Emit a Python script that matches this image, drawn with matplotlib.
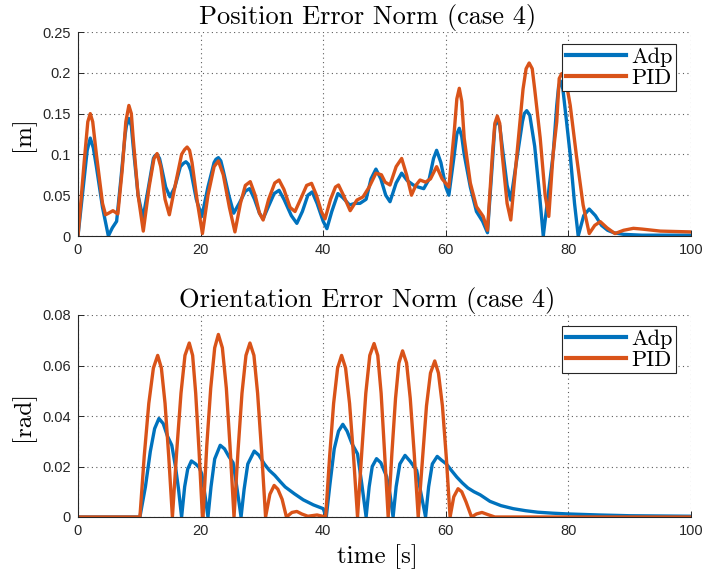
import matplotlib
matplotlib.use("Agg")
import matplotlib.pyplot as plt

# ---------------- data ----------------
# Position error norm [m], controller "Adp"
pos_adp_t = [0, 1, 1.5, 2, 2.5, 3, 4, 4.95, 5.6, 6.3, 7, 7.7, 7.9, 8.3, 8.7, 9, 9.8, 10.6, 11.5, 12.3, 12.5,
             12.9, 13.3, 13.6, 14.3, 15.0, 15.8, 16.7, 17.2, 17.6, 18.0, 18.4, 19.3, 20.2, 21.2, 22.2, 22.5,
             22.9, 23.3, 23.7, 24.6, 25.4, 26.3, 27.3, 28.0, 28.8, 29.6, 30.2, 31.0, 32.0, 32.8, 33.6, 34.8,
             35.7, 36.6, 37.5, 38.2, 39.0, 40.0, 40.6, 41.4, 42.4, 43.2, 44.3, 45.2, 46.0, 47.0, 47.8, 48.6,
             49.4, 50.2, 50.9, 51.9, 52.8, 53.7, 54.7, 55.5, 56.4, 57.3, 58.0, 58.5, 59.2, 60.0, 60.5, 61.3,
             61.8, 62.2, 62.6, 63.0, 64.0, 65.0, 66.0, 66.8, 67.6, 68.0, 68.4, 68.8, 69.2, 70.0, 70.6, 71.5,
             72.5, 72.8, 73.2, 73.7, 74.5, 75.3, 75.9, 76.7, 77.5, 78.1, 78.4, 78.7, 79.1, 79.7, 80.3, 81.0,
             81.6, 82.5, 83.4, 84.4, 85.4, 86.4, 87.4, 89, 92, 100]
pos_adp_v = [0, 0.07, 0.105, 0.12, 0.108, 0.085, 0.035, 0.0, 0.01, 0.018, 0.07, 0.125, 0.135, 0.144, 0.135,
             0.11, 0.05, 0.022, 0.06, 0.095, 0.098, 0.10, 0.095, 0.085, 0.06, 0.048, 0.06, 0.085, 0.089, 0.091,
             0.088, 0.08, 0.045, 0.024, 0.06, 0.09, 0.094, 0.096, 0.092, 0.08, 0.05, 0.028, 0.04, 0.055, 0.058,
             0.045, 0.028, 0.021, 0.035, 0.052, 0.056, 0.045, 0.025, 0.0155, 0.03, 0.05, 0.054, 0.04, 0.018,
             0.009, 0.03, 0.052, 0.047, 0.038, 0.04, 0.040, 0.045, 0.07, 0.082, 0.07, 0.05, 0.042, 0.065,
             0.077, 0.068, 0.0625, 0.06, 0.058, 0.07, 0.095, 0.105, 0.09, 0.06, 0.050, 0.095, 0.125, 0.132,
             0.122, 0.1, 0.06, 0.03, 0.018, 0.004, 0.09, 0.135, 0.142, 0.135, 0.11, 0.062, 0.044, 0.09, 0.14,
             0.15, 0.1536, 0.148, 0.11, 0.05, 0.0, 0.05, 0.099, 0.16, 0.183, 0.19, 0.18, 0.14, 0.099, 0.04,
             0.0, 0.025, 0.033, 0.025, 0.013, 0.007, 0.004, 0.002, 0.001, 0.001]

# Position error norm [m], controller "PID"
pos_pid_t = [0, 1, 1.6, 2.0, 2.4, 3.0, 4.0, 4.5, 5.0, 5.7, 6.5, 7.2, 7.8, 8.3, 8.7, 9.0, 9.8, 10.65, 11.6,
             12.4, 12.9, 13.5, 14.2, 14.9, 15.8, 16.9, 17.4, 17.8, 18.2, 18.6, 19.5, 20.3, 21.2, 22.2, 22.9,
             23.7, 24.7, 25.6, 26.5, 27.3, 28.1, 28.9, 29.6, 30.2, 31.1, 32.1, 32.8, 33.6, 34.6, 35.4, 36.3,
             37.3, 38.1, 38.9, 39.7, 40.3, 41.2, 42.0, 42.5, 43.3, 44.4, 45.5, 46.5, 47.5, 48.6, 49.5, 50.1,
             50.9, 51.9, 52.8, 53.6, 54.4, 55.1, 55.8, 56.7, 57.5, 58.5, 59.4, 60.5, 61.4, 61.8, 62.2, 62.6,
             63.0, 64.0, 65.0, 66.1, 66.8, 67.6, 68.0, 68.4, 68.8, 69.2, 70.0, 70.6, 71.6, 72.6, 73.1, 73.6,
             74.1, 74.5, 75.4, 76.2, 76.8, 77.5, 78.1, 78.5, 78.9, 79.6, 80.3, 81.3, 82.4, 83.4, 84.3, 85.2,
             86.3, 87.6, 89, 90.6, 92, 95, 100]
pos_pid_v = [0, 0.09, 0.14, 0.150, 0.14, 0.1, 0.04, 0.026, 0.028, 0.031, 0.027, 0.08, 0.14, 0.160, 0.15,
             0.12, 0.05, 0.006, 0.06, 0.095, 0.101, 0.085, 0.045, 0.026, 0.06, 0.1, 0.106, 0.109, 0.105, 0.09,
             0.04, 0.003, 0.05, 0.085, 0.092, 0.075, 0.035, 0.005, 0.04, 0.062, 0.0666, 0.05, 0.028, 0.0196,
             0.045, 0.065, 0.0686, 0.057, 0.035, 0.030, 0.045, 0.062, 0.0645, 0.05, 0.03, 0.021, 0.045, 0.06,
             0.0625, 0.05, 0.031, 0.044, 0.048, 0.06, 0.077, 0.075, 0.066, 0.0625, 0.085, 0.095, 0.075, 0.050,
             0.062, 0.0686, 0.066, 0.07, 0.085, 0.07, 0.06, 0.13, 0.168, 0.181, 0.165, 0.12, 0.065, 0.036,
             0.024, 0.007, 0.1, 0.138, 0.147, 0.138, 0.1, 0.04, 0.0196, 0.1, 0.18, 0.205, 0.212, 0.205, 0.18,
             0.12, 0.05, 0.024, 0.1, 0.14, 0.193, 0.199, 0.19, 0.16, 0.099, 0.038, 0.003, 0.013, 0.0176, 0.01,
             0.003, 0.007, 0.0094, 0.0085, 0.006, 0.005]

# Orientation error norm [rad], controller "Adp"
ori_adp_t = [0, 10.1, 11.0, 11.8, 12.5, 13.2, 13.9, 14.6, 15.3, 15.9, 16.4, 16.9, 17.4, 17.9, 18.5, 19.2,
             19.8, 20.2, 20.7, 21.2, 21.7, 22.3, 23.2, 23.9, 24.6, 25.3, 25.9, 26.6, 27.1, 27.7, 28.75, 29.5,
             30.4, 31.2, 32.1, 33.0, 33.8, 35.3, 36.75, 38.4, 40.0, 40.5, 41.1, 41.8, 42.5, 43.2, 43.9, 44.7,
             45.6, 46.3, 47.0, 47.5, 48.0, 48.7, 49.4, 50.35, 50.9, 51.4, 51.9, 52.5, 53.35, 54.2, 55.25, 55.9,
             56.7, 57.2, 57.8, 58.6, 59.3, 60.1, 60.9, 61.8, 62.7, 63.6, 64.6, 65.6, 67.2, 69.0, 71.0, 73.0,
             75.0, 77.5, 80, 85, 90, 100]
ori_adp_v = [0, 0, 0.012, 0.026, 0.035, 0.039, 0.037, 0.032, 0.0284, 0.02, 0.011, 0.0, 0.012, 0.019, 0.0222,
             0.021, 0.0195, 0.017, 0.009, 0.0, 0.012, 0.023, 0.0284, 0.027, 0.024, 0.0215, 0.012, 0.0, 0.011,
             0.021, 0.0261, 0.0245, 0.021, 0.0185, 0.0165, 0.014, 0.0119, 0.0092, 0.0068, 0.0048, 0.0033, 0.0,
             0.013, 0.027, 0.034, 0.0367, 0.034, 0.029, 0.025, 0.013, 0.0, 0.012, 0.02, 0.0231, 0.0215, 0.016,
             0.009, 0.0, 0.012, 0.021, 0.0244, 0.022, 0.0185, 0.01, 0.0, 0.012, 0.021, 0.024, 0.0225, 0.021,
             0.0185, 0.0158, 0.0135, 0.0115, 0.0100, 0.0088, 0.0062, 0.0045, 0.0033, 0.0025, 0.0019, 0.0015,
             0.0012, 0.0008, 0.0005, 0.0003]

# Orientation error norm [rad], controller "PID"
ori_pid_t = [0, 10.1, 10.8, 11.55, 12.3, 13.0, 13.6, 14.2, 14.8, 15.4, 16.1, 16.8, 17.45, 18.15, 18.7, 19.2,
             19.75, 20.3, 20.4, 21.0, 21.65, 22.3, 22.9, 23.55, 24.2, 24.8, 25.45, 26.1, 26.75, 27.4, 28.05,
             28.7, 29.3, 29.95, 30.6, 31.3, 32.0, 32.6, 33.3, 34.0, 34.9, 35.7, 36.5, 37.5, 39.0, 40.4, 41.05,
             41.7, 42.35, 43.0, 43.65, 44.3, 44.95, 45.6, 46.3, 46.95, 47.6, 48.3, 48.9, 49.45, 50.0, 50.6,
             51.2, 51.8, 52.35, 52.95, 53.6, 54.2, 54.85, 55.5, 56.2, 56.85, 57.5, 58.2, 58.8, 59.45, 60.1,
             60.7, 61.3, 62.0, 62.6, 63.3, 64.2, 65.0, 65.9, 66.8, 68, 100]
ori_pid_v = [0, 0, 0.024, 0.045, 0.059, 0.064, 0.059, 0.045, 0.024, 0.0, 0.026, 0.049, 0.064, 0.0689, 0.064,
             0.049, 0.026, 0.0, 0.0, 0.028, 0.051, 0.067, 0.0723, 0.067, 0.051, 0.028, 0.0, 0.026, 0.049, 0.064,
             0.0689, 0.064, 0.049, 0.026, 0.0, 0.009, 0.0125, 0.011, 0.007, 0.0, 0.0018, 0.0022, 0.0012, 0.0003,
             0.0008, 0.0, 0.024, 0.045, 0.059, 0.064, 0.059, 0.045, 0.024, 0.0, 0.026, 0.049, 0.064, 0.0687,
             0.064, 0.049, 0.026, 0.0, 0.025, 0.047, 0.061, 0.0658, 0.061, 0.047, 0.025, 0.0, 0.023, 0.044,
             0.057, 0.0618, 0.057, 0.044, 0.023, 0.0, 0.008, 0.0112, 0.01, 0.006, 0.0, 0.0012, 0.0018, 0.001,
             0.0, 0.0]

x_ticks = [0, 20, 40, 60, 80, 100]
pos_yticks = [0, 0.05, 0.1, 0.15, 0.2, 0.25]
pos_ylabels = ["0", "0.05", "0.1", "0.15", "0.2", "0.25"]
ori_yticks = [0, 0.02, 0.04, 0.06, 0.08]
ori_ylabels = ["0", "0.02", "0.04", "0.06", "0.08"]
series_names = ["Adp", "PID"]

# ---------------- style ----------------
BLUE = "#0072BD"
ORANGE = "#D95319"
SERIF = "cmr10"
TICKFONT = "Liberation Sans"
LW = 2.4

fig = plt.figure(figsize=(7.04, 5.74), dpi=100)
W, H = 704, 574


def make_axes(left, top, right, bottom):
    return fig.add_axes([left / W, 1 - bottom / H, (right - left) / W, (bottom - top) / H])


def style(ax, yticks, ylabels, ymax):
    ax.set_xlim(0, 100)
    ax.set_ylim(0, ymax)
    ax.set_xticks(x_ticks)
    ax.set_xticklabels([str(v) for v in x_ticks], fontfamily=TICKFONT, fontsize=10.5, color="0.15")
    ax.set_yticks(yticks)
    ax.set_yticklabels(ylabels, fontfamily=TICKFONT, fontsize=10.5, color="0.15")
    ax.tick_params(direction="in", length=4, width=0.7, color="0.15", pad=5)
    for s in ["top", "right"]:
        ax.spines[s].set_visible(False)
    for s in ["left", "bottom"]:
        ax.spines[s].set_color("0.15")
        ax.spines[s].set_linewidth(0.8)
    ax.grid(True, color="0.15", alpha=0.75, linewidth=0.8, linestyle=(0, (1, 3)))
    ax.set_axisbelow(True)


TITLE_X = 0.472

ax1 = make_axes(78, 32, 691, 236)
ax1.plot(pos_adp_t, pos_adp_v, color=BLUE, lw=LW, label=series_names[0], solid_joinstyle="round")
ax1.plot(pos_pid_t, pos_pid_v, color=ORANGE, lw=LW, label=series_names[1], solid_joinstyle="round")
style(ax1, pos_yticks, pos_ylabels, 0.25)
ax1.set_title("Position Error Norm (case 4)", fontfamily=SERIF, fontsize=19, pad=6, x=TITLE_X)
ax1.set_ylabel("[m]", fontfamily=SERIF, fontsize=18, labelpad=5)

ax2 = make_axes(78, 315, 691, 517)
ax2.plot(ori_adp_t, ori_adp_v, color=BLUE, lw=LW, label=series_names[0], solid_joinstyle="round")
ax2.plot(ori_pid_t, ori_pid_v, color=ORANGE, lw=LW, label=series_names[1], solid_joinstyle="round")
style(ax2, ori_yticks, ori_ylabels, 0.08)
ax2.set_title("Orientation Error Norm (case 4)", fontfamily=SERIF, fontsize=19, pad=6, x=TITLE_X)
ax2.set_ylabel("[rad]", fontfamily=SERIF, fontsize=18, labelpad=5)
ax2.set_xlabel("time [s]", fontfamily=SERIF, fontsize=18)
ax2.xaxis.set_label_coords((377 - 78) / 613, (517 - 563) / 202)
ax2.xaxis.label.set_va("baseline")

for ax, anchor in [(ax1, (0.9755, 0.941)), (ax2, (0.9755, 0.9455))]:
    leg = ax.legend(loc="upper right", bbox_to_anchor=anchor, borderaxespad=0,
                    prop={"family": SERIF, "size": 16}, frameon=True, fancybox=False,
                    edgecolor="0.15", framealpha=1, handlelength=2.7, handletextpad=0.25,
                    borderpad=0.15, labelspacing=0.05)
    leg.get_frame().set_linewidth(0.8)
    for line in leg.get_lines():
        line.set_linewidth(LW + 0.6)

fig.savefig("out.png", dpi=100)
